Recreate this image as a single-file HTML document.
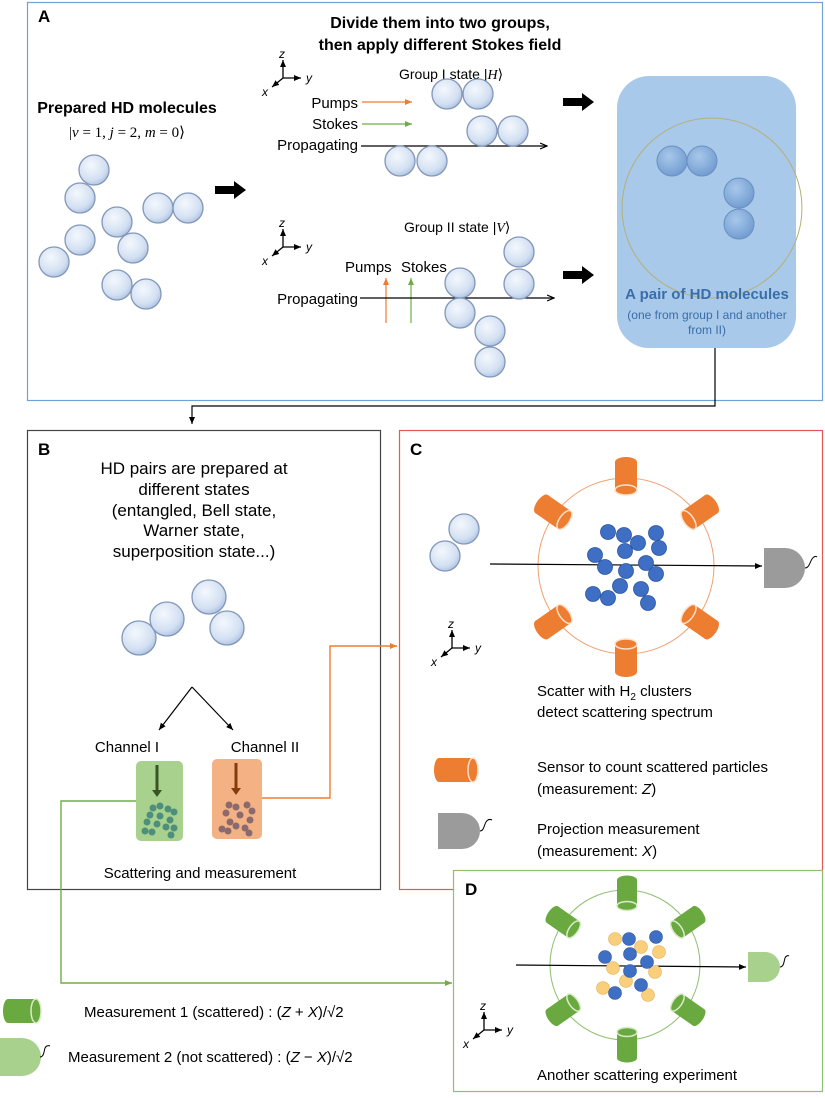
<!DOCTYPE html>
<html><head><meta charset="utf-8"><style>
html,body{margin:0;padding:0;background:#fff}
svg{display:block;font-family:"Liberation Sans",sans-serif}
</style></head><body>
<svg width="825" height="1098" viewBox="0 0 825 1098" xmlns="http://www.w3.org/2000/svg">
<defs>
<radialGradient id="mol" cx="0.4" cy="0.35" r="0.7">
<stop offset="0" stop-color="#f4f8fd"/><stop offset="0.7" stop-color="#d3e0f2"/><stop offset="1" stop-color="#a9bfe0"/>
</radialGradient>
<radialGradient id="mol2" cx="0.4" cy="0.35" r="0.7">
<stop offset="0" stop-color="#a8c8ea"/><stop offset="1" stop-color="#6f9ad0"/>
</radialGradient>
<marker id="ab" markerWidth="8" markerHeight="8" refX="7" refY="4" orient="auto" markerUnits="userSpaceOnUse"><path d="M0,1 L7,4 L0,7" fill="none" stroke="#000" stroke-width="1.2"/></marker>
<marker id="ao" markerWidth="8" markerHeight="8" refX="7" refY="4" orient="auto" markerUnits="userSpaceOnUse"><path d="M0,1 L7,4 L0,7 z" fill="#ed7d31"/></marker>
<marker id="ag" markerWidth="8" markerHeight="8" refX="7" refY="4" orient="auto" markerUnits="userSpaceOnUse"><path d="M0,1 L7,4 L0,7 z" fill="#70ad47"/></marker>
<marker id="af" markerWidth="8" markerHeight="8" refX="7" refY="4" orient="auto" markerUnits="userSpaceOnUse"><path d="M0,1 L7,4 L0,7 z" fill="#000"/></marker>
<g id="m"><circle r="15" fill="url(#mol)" stroke="#8297b8" stroke-width="1.3"/></g>
<g id="mb"><circle r="15" fill="url(#mol2)" stroke="#6a8fc0" stroke-width="1"/></g>
<g id="cylO"><rect x="-11" y="-14" width="22" height="28" fill="#ed7d31"/><ellipse cx="0" cy="-14" rx="11" ry="5" fill="#ed7d31"/><ellipse cx="0" cy="14" rx="11" ry="5" fill="#ed7d31" stroke="#fbe1cc" stroke-width="1.5"/></g>
<g id="cylG"><rect x="-10" y="-13" width="20" height="26" fill="#6aa840"/><ellipse cx="0" cy="-13" rx="10" ry="4.5" fill="#6aa840"/><ellipse cx="0" cy="13" rx="10" ry="4.5" fill="#6aa840" stroke="#d9ecc9" stroke-width="1.5"/></g>
<g id="axes"><path d="M0,0 V-18" stroke="#000" stroke-width="1.3" fill="none" marker-end="url(#af)"/><path d="M0,0 H18" stroke="#000" stroke-width="1.3" marker-end="url(#af)"/><path d="M0,0 L-11,9" stroke="#000" stroke-width="1.3" marker-end="url(#af)"/><text x="-4" y="-20" font-size="12" font-style="italic">z</text><text x="23" y="4" font-size="12" font-style="italic">y</text><text x="-21" y="18" font-size="12" font-style="italic">x</text></g>
</defs>

<!-- Panel A -->
<rect x="27.5" y="2.5" width="795" height="398" fill="none" stroke="#6fa3d8" stroke-width="1.2"/>
<text x="38" y="22" font-size="17" font-weight="bold">A</text>
<text x="440" y="28" font-size="16" font-weight="bold" text-anchor="middle">Divide them into two groups,</text>
<text x="440" y="50" font-size="16" font-weight="bold" text-anchor="middle">then apply different Stokes field</text>
<text x="127" y="113" font-size="16" font-weight="bold" text-anchor="middle">Prepared HD molecules</text>
<text x="127" y="137" font-size="15" text-anchor="middle" font-family="Liberation Serif,serif">|<tspan font-style="italic">v</tspan> = 1, <tspan font-style="italic">j</tspan> = 2, <tspan font-style="italic">m</tspan> = 0⟩</text>
<use href="#m" x="94" y="170"/><use href="#m" x="80" y="198"/><use href="#m" x="117" y="222"/><use href="#m" x="158" y="208"/><use href="#m" x="188" y="208"/><use href="#m" x="80" y="240"/><use href="#m" x="133" y="248"/><use href="#m" x="54" y="262"/><use href="#m" x="117" y="285"/><use href="#m" x="146" y="294"/>
<path d="M215,186 H234 V181 L246,190 L234,199 V194 H215z" fill="#000"/>
<path d="M563,98 H582 V93 L594,102 L582,111 V106 H563z" fill="#000"/>
<path d="M563,271 H582 V266 L594,275 L582,284 V279 H563z" fill="#000"/>

<use href="#axes" x="283" y="78"/>
<text x="399" y="79" font-size="14">Group I state |<tspan font-style="italic" font-family="Liberation Serif,serif">H</tspan>⟩</text>
<text x="358" y="108" font-size="15" text-anchor="end">Pumps</text>
<line x1="362" y1="102" x2="412" y2="102" stroke="#ed7d31" stroke-width="1.2" marker-end="url(#ao)"/>
<text x="358" y="129" font-size="15" text-anchor="end">Stokes</text>
<line x1="362" y1="124" x2="412" y2="124" stroke="#70ad47" stroke-width="1.2" marker-end="url(#ag)"/>
<text x="358" y="150" font-size="15" text-anchor="end">Propagating</text>
<line x1="361" y1="146" x2="547" y2="146" stroke="#000" stroke-width="1.2" marker-end="url(#ab)"/>
<use href="#m" x="447" y="94"/><use href="#m" x="478" y="94"/><use href="#m" x="482" y="131"/><use href="#m" x="513" y="131"/><use href="#m" x="400" y="161"/><use href="#m" x="432" y="161"/>

<use href="#axes" x="283" y="247"/>
<text x="404" y="232" font-size="14">Group II state |<tspan font-style="italic" font-family="Liberation Serif,serif">V</tspan>⟩</text>
<text x="345" y="272" font-size="15">Pumps</text><text x="401" y="272" font-size="15">Stokes</text>
<line x1="386" y1="323" x2="386" y2="278" stroke="#ed7d31" stroke-width="1.2" marker-end="url(#ao)"/>
<line x1="411" y1="323" x2="411" y2="278" stroke="#70ad47" stroke-width="1.2" marker-end="url(#ag)"/>
<text x="358" y="304" font-size="15" text-anchor="end">Propagating</text>
<line x1="360" y1="298" x2="554" y2="298" stroke="#000" stroke-width="1.2" marker-end="url(#ab)"/>
<use href="#m" x="460" y="283"/><use href="#m" x="460" y="313"/><use href="#m" x="519" y="252"/><use href="#m" x="519" y="284"/><use href="#m" x="490" y="331"/><use href="#m" x="490" y="362"/>

<rect x="617" y="76" width="179" height="272" rx="32" fill="#a8c9e9"/>
<circle cx="712" cy="208" r="90" fill="none" stroke="#b5b07a" stroke-width="1"/>
<use href="#mb" x="672" y="161"/><use href="#mb" x="702" y="161"/><use href="#mb" x="739" y="193"/><use href="#mb" x="739" y="224"/>
<text x="707" y="299" font-size="15" font-weight="bold" fill="#3a6ea8" text-anchor="middle">A pair of HD molecules</text>
<text x="707" y="319" font-size="12" fill="#3a6ea8" text-anchor="middle">(one from group I and another</text>
<text x="707" y="334" font-size="12" fill="#3a6ea8" text-anchor="middle">from II)</text>

<path d="M715,348 V406 H192 V424" fill="none" stroke="#000" stroke-width="1.2" marker-end="url(#af)"/>

<!-- Panel B -->
<rect x="27.5" y="430.5" width="353" height="459" fill="none" stroke="#444" stroke-width="1.2"/>
<text x="38" y="455" font-size="17" font-weight="bold">B</text>
<g font-size="17" text-anchor="middle">
<text x="194" y="474">HD pairs are prepared at</text>
<text x="194" y="495">different states</text>
<text x="194" y="516">(entangled, Bell state,</text>
<text x="194" y="536">Warner state,</text>
<text x="194" y="557">superposition state...)</text>
</g>
<g><circle cx="139" cy="638" r="17" fill="url(#mol)" stroke="#8297b8" stroke-width="1.3"/><circle cx="167" cy="619" r="17" fill="url(#mol)" stroke="#8297b8" stroke-width="1.3"/><circle cx="209" cy="597" r="17" fill="url(#mol)" stroke="#8297b8" stroke-width="1.3"/><circle cx="227" cy="628" r="17" fill="url(#mol)" stroke="#8297b8" stroke-width="1.3"/></g>
<path d="M192,687 L159,730" stroke="#000" stroke-width="1.2" marker-end="url(#af)"/>
<path d="M192,687 L233,730" stroke="#000" stroke-width="1.2" marker-end="url(#af)"/>
<text x="127" y="752" font-size="15" text-anchor="middle">Channel I</text>
<text x="265" y="752" font-size="15" text-anchor="middle">Channel II</text>
<rect x="136" y="761" width="47" height="80" rx="5" fill="#a9d18e"/>
<rect x="212" y="759" width="50" height="80" rx="5" fill="#f4b183"/>
<path d="M157,765 V792" stroke="#375623" stroke-width="3"/><path d="M152,790 L157,797 L162,790z" fill="#375623"/>
<path d="M236,763 V790" stroke="#843c0c" stroke-width="3"/><path d="M231,788 L236,795 L241,788z" fill="#843c0c"/>
<g fill="#4e8f7c"><circle cx="153" cy="808" r="3.5"/><circle cx="160" cy="806" r="3.5"/><circle cx="168" cy="809" r="3.5"/><circle cx="174" cy="812" r="3.5"/><circle cx="150" cy="815" r="3.5"/><circle cx="160" cy="816" r="3.5"/><circle cx="170" cy="820" r="3.5"/><circle cx="147" cy="822" r="3.5"/><circle cx="157" cy="824" r="3.5"/><circle cx="166" cy="827" r="3.5"/><circle cx="174" cy="828" r="3.5"/><circle cx="145" cy="831" r="3.5"/><circle cx="152" cy="832" r="3.5"/><circle cx="171" cy="835" r="3.5"/></g>
<g fill="#8a6a6e"><circle cx="229" cy="805" r="3.5"/><circle cx="236" cy="807" r="3.5"/><circle cx="247" cy="805" r="3.5"/><circle cx="252" cy="811" r="3.5"/><circle cx="226" cy="813" r="3.5"/><circle cx="240" cy="815" r="3.5"/><circle cx="250" cy="820" r="3.5"/><circle cx="230" cy="822" r="3.5"/><circle cx="236" cy="826" r="3.5"/><circle cx="245" cy="828" r="3.5"/><circle cx="222" cy="829" r="3.5"/><circle cx="228" cy="831" r="3.5"/><circle cx="249" cy="833" r="3.5"/></g>
<text x="200" y="878" font-size="15" text-anchor="middle">Scattering and measurement</text>

<path d="M262,798 H330 V646 H397" fill="none" stroke="#ed7d31" stroke-width="1.4" marker-end="url(#ao)"/>
<path d="M136,801 H61 V983 H452" fill="none" stroke="#70ad47" stroke-width="1.4" marker-end="url(#ag)"/>

<!-- Panel C -->
<rect x="399.5" y="430.5" width="423" height="459" fill="none" stroke="#e8575a" stroke-width="1.2"/>
<text x="410" y="455" font-size="17" font-weight="bold">C</text>
<use href="#m" x="464" y="529"/><use href="#m" x="445" y="556"/>
<circle cx="626" cy="566" r="88" fill="none" stroke="#f0a070" stroke-width="1"/>
<use href="#cylO" transform="translate(626,476)"/>
<use href="#cylO" transform="translate(626,658) rotate(180)"/>
<use href="#cylO" transform="translate(553,512) rotate(-55)"/>
<use href="#cylO" transform="translate(700,512) rotate(55)"/>
<use href="#cylO" transform="translate(553,622) rotate(-125)"/>
<use href="#cylO" transform="translate(700,622) rotate(125)"/>
<line x1="490" y1="564" x2="762" y2="566" stroke="#000" stroke-width="1.2" marker-end="url(#af)"/>
<g fill="#3e6fc4" stroke="#2d55a0" stroke-width="0.8">
<circle cx="608" cy="532" r="7.5"/><circle cx="624" cy="535" r="7.5"/><circle cx="638" cy="543" r="7.5"/><circle cx="656" cy="533" r="7.5"/><circle cx="659" cy="548" r="7.5"/><circle cx="625" cy="551" r="7.5"/><circle cx="595" cy="555" r="7.5"/><circle cx="605" cy="567" r="7.5"/><circle cx="646" cy="563" r="7.5"/><circle cx="626" cy="571" r="7.5"/><circle cx="656" cy="574" r="7.5"/><circle cx="620" cy="586" r="7.5"/><circle cx="593" cy="594" r="7.5"/><circle cx="608" cy="598" r="7.5"/><circle cx="641" cy="589" r="7.5"/><circle cx="648" cy="603" r="7.5"/></g>
<path d="M764,548 H785 A20,20 0 0 1 785,588 H764z" fill="#9b9b9b"/>
<path d="M805,568 c4,0 5,-6 7,-9 c2,-3 4,-3 5,-2" fill="none" stroke="#000" stroke-width="1"/>
<use href="#axes" x="452" y="648"/>
<text x="537" y="696" font-size="15">Scatter with H<tspan font-size="10" dy="4">2</tspan><tspan dy="-4"> clusters</tspan></text>
<text x="537" y="717" font-size="15">detect scattering spectrum</text>
<g transform="translate(456,770) rotate(-90)"><rect x="-12" y="-17" width="24" height="34" fill="#ed7d31"/><ellipse cx="0" cy="-17" rx="12" ry="5" fill="#ed7d31"/><ellipse cx="0" cy="17" rx="12" ry="5" fill="#ed7d31" stroke="#fbe1cc" stroke-width="1.5"/></g>
<text x="537" y="772" font-size="15">Sensor to count scattered particles</text>
<text x="537" y="794" font-size="15">(measurement: <tspan font-style="italic">Z</tspan>)</text>
<path d="M438,813 H462 A18,18 0 0 1 462,849 H438z" fill="#9b9b9b"/>
<path d="M480,831 c4,0 4,-6 6,-9 c2,-3 4,-3 6,-2" fill="none" stroke="#000" stroke-width="1"/>
<text x="537" y="834" font-size="15">Projection measurement</text>
<text x="537" y="856" font-size="15">(measurement: <tspan font-style="italic">X</tspan>)</text>

<!-- Panel D -->
<rect x="453.5" y="870.5" width="369" height="221" fill="#fff" stroke="#8fbf6f" stroke-width="1.2"/>
<text x="465" y="895" font-size="17" font-weight="bold">D</text>
<circle cx="625" cy="965" r="75" fill="none" stroke="#8fbf6f" stroke-width="1"/>
<use href="#cylG" transform="translate(627,893)"/>
<use href="#cylG" transform="translate(627,1045) rotate(180)"/>
<use href="#cylG" transform="translate(563,922) rotate(-55)"/>
<use href="#cylG" transform="translate(688,922) rotate(55)"/>
<use href="#cylG" transform="translate(563,1010) rotate(-125)"/>
<use href="#cylG" transform="translate(688,1010) rotate(125)"/>
<line x1="516" y1="965" x2="746" y2="967" stroke="#000" stroke-width="1.2" marker-end="url(#af)"/>
<g stroke-width="0.6">
<g fill="#f9cf7c" stroke="#e0b060"><circle cx="615" cy="939" r="6.5"/><circle cx="641" cy="947" r="6.5"/><circle cx="659" cy="952" r="6.5"/><circle cx="613" cy="968" r="6.5"/><circle cx="655" cy="972" r="6.5"/><circle cx="626" cy="981" r="6.5"/><circle cx="603" cy="988" r="6.5"/><circle cx="648" cy="995" r="6.5"/></g>
<g fill="#3e6fc4" stroke="#2d55a0"><circle cx="629" cy="939" r="6.5"/><circle cx="656" cy="937" r="6.5"/><circle cx="630" cy="954" r="6.5"/><circle cx="605" cy="957" r="6.5"/><circle cx="647" cy="962" r="6.5"/><circle cx="630" cy="971" r="6.5"/><circle cx="641" cy="985" r="6.5"/><circle cx="615" cy="993" r="6.5"/></g></g>
<path d="M748,952 H765 A15,15 0 0 1 765,982 H748z" fill="#a9d18e"/>
<path d="M780,967 c4,0 4,-6 5,-9 c1,-2 3,-3 4,-2" fill="none" stroke="#000" stroke-width="1"/>
<use href="#axes" x="484" y="1030"/>
<text x="637" y="1080" font-size="15" text-anchor="middle">Another scattering experiment</text>

<!-- Legend -->
<g transform="translate(22,1011) rotate(-90)"><rect x="-12" y="-14" width="24" height="28" fill="#6aa840"/><ellipse cx="0" cy="-14" rx="12" ry="5" fill="#6aa840"/><ellipse cx="0" cy="14" rx="12" ry="5" fill="#6aa840" stroke="#d9ecc9" stroke-width="1.5"/></g>
<text x="84" y="1017" font-size="15">Measurement 1 (scattered) : (<tspan font-style="italic">Z</tspan> + <tspan font-style="italic">X</tspan>)/√2</text>
<path d="M0,1038 H22 A19,19 0 0 1 22,1076 H0z" fill="#a9d18e"/>
<path d="M40,1057 c4,0 4,-6 5,-9 c1,-2 3,-3 5,-2" fill="none" stroke="#000" stroke-width="1"/>
<text x="68" y="1062" font-size="15">Measurement 2 (not scattered) : (<tspan font-style="italic">Z</tspan> − <tspan font-style="italic">X</tspan>)/√2</text>
</svg>
</body></html>
